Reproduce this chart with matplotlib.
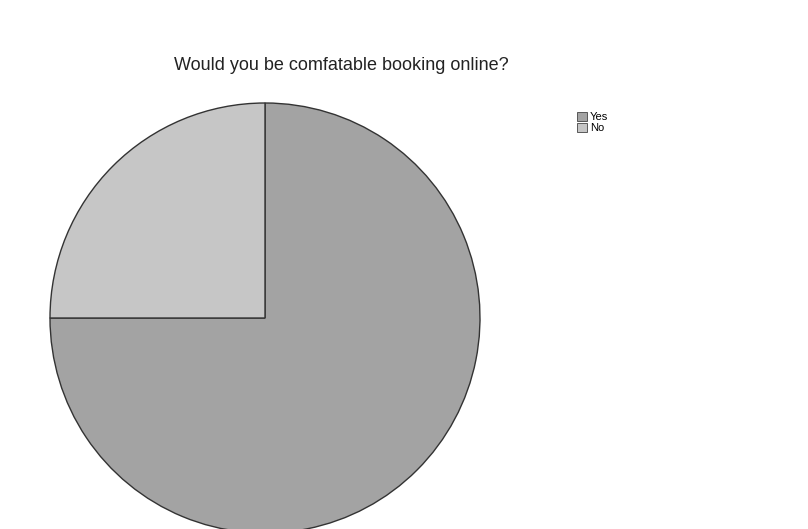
import matplotlib
matplotlib.use("Agg")
import matplotlib.pyplot as plt
from matplotlib.patches import Patch

labels = ["Yes", "No"]
values = [75, 25]
colors = ["#a3a3a3", "#c6c6c6"]
title = "Would you be comfatable booking online?"

W, H = 808, 529
fig = plt.figure(figsize=(W / 100, H / 100), dpi=100)
fig.patch.set_facecolor("white")

cx, cy, r = 265, 318, 215
ax = fig.add_axes([(cx - r) / W, (H - cy - r) / H, 2 * r / W, 2 * r / H])
ax.pie(values, colors=colors, startangle=90, counterclock=False, radius=1,
       wedgeprops=dict(edgecolor="#333333", linewidth=1.0))
ax.set_xlim(-1, 1)
ax.set_ylim(-1, 1)
ax.set_aspect("auto")
ax.axis("off")

fig.text(341 / W, 1 - 65 / H, title, ha="center", va="center",
         fontsize=13, family="Liberation Sans", color="#222222")

handles = [Patch(facecolor=c, edgecolor="#444444", linewidth=0.6) for c in colors]
fig.legend(handles, labels, loc="upper left", bbox_to_anchor=(571 / W, 1 - 106 / H),
           frameon=False, handlelength=0.9, handleheight=0.9,
           handletextpad=0.3, labelspacing=0.05, borderpad=0,
           prop={"family": "Liberation Sans", "size": 8})

fig.savefig("out.png", dpi=100, facecolor="white")
